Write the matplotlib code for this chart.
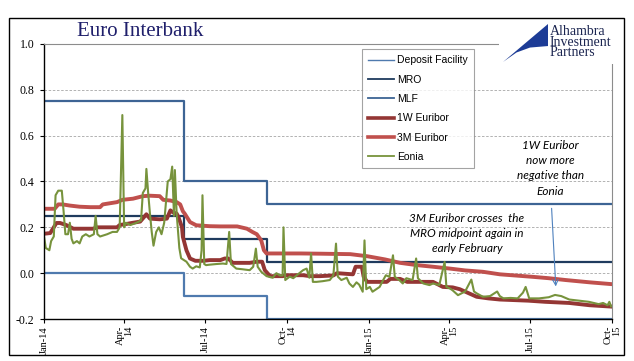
import matplotlib
matplotlib.use('Agg')
import matplotlib.pyplot as plt
import pandas as pd
from matplotlib.patches import Rectangle, Polygon

plt.rcParams['axes.unicode_minus'] = False

# ECB corridor, step changes
policy_dates = ['2014-01-01', '2014-06-07', '2014-09-08', '2015-10-01']
deposit = [0.00, -0.10, -0.20, -0.20]
mro = [0.25, 0.15, 0.05, 0.05]
mlf = [0.75, 0.40, 0.30, 0.30]

# 1W Euribor
w1_dates = ['2014-01-01', '2014-01-08', '2014-01-15', '2014-01-19', '2014-01-26', '2014-02-03',
            '2014-02-14', '2014-02-25', '2014-03-02', '2014-03-16', '2014-03-24', '2014-03-27',
            '2014-04-04', '2014-04-11', '2014-04-19', '2014-04-26', '2014-04-30', '2014-05-11',
            '2014-05-19', '2014-05-23', '2014-05-26', '2014-05-30', '2014-06-01', '2014-06-05',
            '2014-06-06', '2014-06-10', '2014-06-14', '2014-06-20', '2014-06-29', '2014-07-06',
            '2014-07-18', '2014-07-23', '2014-07-27', '2014-08-01', '2014-08-15', '2014-08-20',
            '2014-08-28', '2014-09-03', '2014-09-06', '2014-09-12', '2014-09-26', '2014-10-01',
            '2014-10-19', '2014-10-27', '2014-11-07', '2014-11-22', '2014-11-26', '2014-12-14',
            '2014-12-17', '2014-12-24', '2014-12-26', '2014-12-30', '2015-01-21', '2015-01-25',
            '2015-02-05', '2015-02-13', '2015-03-14', '2015-03-25', '2015-04-05', '2015-04-13',
            '2015-05-02', '2015-05-15', '2015-05-28', '2015-06-29', '2015-07-18', '2015-08-14',
            '2015-09-06', '2015-10-01']
w1 = [0.172, 0.175, 0.219, 0.219, 0.21, 0.194,
      0.194, 0.194, 0.20, 0.20, 0.20, 0.21,
      0.215, 0.22, 0.225, 0.257, 0.238, 0.235,
      0.238, 0.274, 0.265, 0.26, 0.245, 0.20,
      0.158, 0.10, 0.064, 0.054, 0.054, 0.057,
      0.057, 0.064, 0.064, 0.045, 0.045, 0.045,
      0.05, 0.05, 0.013, -0.013, -0.013, -0.009,
      -0.009, -0.013, -0.013, -0.01, 0.0, -0.005,
      0.028, 0.028, -0.015, -0.038, -0.038, -0.025,
      -0.025, -0.038, -0.038, -0.06, -0.062, -0.07,
      -0.103, -0.11, -0.115, -0.12, -0.125, -0.13,
      -0.14, -0.146]

# 3M Euribor
m3_dates = ['2014-01-01', '2014-01-13', '2014-01-17', '2014-01-22', '2014-01-30', '2014-02-10',
            '2014-02-22', '2014-03-05', '2014-03-08', '2014-03-16', '2014-03-24', '2014-03-30',
            '2014-04-11', '2014-04-22', '2014-04-30', '2014-05-11', '2014-05-15', '2014-05-23',
            '2014-05-30', '2014-06-03', '2014-06-06', '2014-06-08', '2014-06-14', '2014-06-21',
            '2014-07-06', '2014-07-18', '2014-08-06', '2014-08-17', '2014-08-23', '2014-08-28',
            '2014-09-02', '2014-09-05', '2014-09-08', '2014-10-16', '2014-11-07', '2014-12-11',
            '2014-12-30', '2015-01-19', '2015-02-05', '2015-02-24', '2015-03-14', '2015-04-02',
            '2015-04-19', '2015-05-09', '2015-05-28', '2015-07-04', '2015-07-22', '2015-08-10',
            '2015-09-06', '2015-10-01']
m3 = [0.281, 0.281, 0.30, 0.30, 0.295, 0.29,
      0.288, 0.288, 0.30, 0.305, 0.31, 0.32,
      0.325, 0.336, 0.338, 0.336, 0.32, 0.317,
      0.31, 0.30, 0.27, 0.26, 0.223, 0.209,
      0.205, 0.204, 0.204, 0.194, 0.18, 0.17,
      0.143, 0.10, 0.086, 0.086, 0.085, 0.083,
      0.074, 0.06, 0.045, 0.035, 0.028, 0.02,
      0.012, 0.006, -0.005, -0.016, -0.022, -0.03,
      -0.04, -0.048]

# Eonia
eonia_dates = ['2014-01-01', '2014-01-03', '2014-01-07', '2014-01-09', '2014-01-12', '2014-01-14',
               '2014-01-17', '2014-01-21', '2014-01-23', '2014-01-25', '2014-01-28', '2014-01-30',
               '2014-02-01', '2014-02-03', '2014-02-07', '2014-02-10', '2014-02-13', '2014-02-17',
               '2014-02-21', '2014-02-26', '2014-02-28', '2014-03-02', '2014-03-05', '2014-03-09',
               '2014-03-13', '2014-03-19', '2014-03-24', '2014-03-27', '2014-03-30', '2014-04-01',
               '2014-04-03', '2014-04-08', '2014-04-15', '2014-04-20', '2014-04-22', '2014-04-25',
               '2014-04-26', '2014-04-28', '2014-04-30', '2014-05-02', '2014-05-04', '2014-05-07',
               '2014-05-10', '2014-05-13', '2014-05-16', '2014-05-20', '2014-05-23', '2014-05-25',
               '2014-05-27', '2014-05-28', '2014-05-30', '2014-06-02', '2014-06-04', '2014-06-10',
               '2014-06-14', '2014-06-17', '2014-06-21', '2014-06-25', '2014-06-27', '2014-06-28',
               '2014-06-30', '2014-07-02', '2014-07-06', '2014-07-14', '2014-07-21', '2014-07-25',
               '2014-07-28', '2014-07-30', '2014-08-05', '2014-08-12', '2014-08-20', '2014-08-24',
               '2014-08-27', '2014-08-29', '2014-09-02', '2014-09-08', '2014-09-15', '2014-09-19',
               '2014-09-23', '2014-09-26', '2014-09-27', '2014-09-29', '2014-10-04', '2014-10-08',
               '2014-10-11', '2014-10-19', '2014-10-23', '2014-10-26', '2014-10-28', '2014-10-30',
               '2014-11-03', '2014-11-10', '2014-11-18', '2014-11-22', '2014-11-25', '2014-11-27',
               '2014-12-01', '2014-12-07', '2014-12-10', '2014-12-14', '2014-12-18', '2014-12-21',
               '2014-12-25', '2014-12-27', '2014-12-29', '2015-01-02', '2015-01-05', '2015-01-13',
               '2015-01-17', '2015-01-20', '2015-01-24', '2015-01-28', '2015-01-30', '2015-02-04',
               '2015-02-08', '2015-02-12', '2015-02-19', '2015-02-23', '2015-02-25', '2015-03-03',
               '2015-03-10', '2015-03-14', '2015-03-21', '2015-03-27', '2015-03-29', '2015-04-02',
               '2015-04-05', '2015-04-11', '2015-04-19', '2015-04-26', '2015-04-29', '2015-05-02',
               '2015-05-09', '2015-05-17', '2015-05-25', '2015-05-28', '2015-06-01', '2015-06-09',
               '2015-06-17', '2015-06-23', '2015-06-26', '2015-06-30', '2015-07-11', '2015-07-22',
               '2015-07-29', '2015-08-05', '2015-08-14', '2015-08-25', '2015-09-05', '2015-09-16',
               '2015-09-21', '2015-09-26', '2015-09-28', '2015-09-30']
eonia = [0.16, 0.11, 0.10, 0.14, 0.16, 0.34,
         0.36, 0.36, 0.27, 0.17, 0.17, 0.22,
         0.15, 0.13, 0.14, 0.13, 0.16, 0.17,
         0.16, 0.17, 0.25, 0.17, 0.16, 0.165,
         0.17, 0.18, 0.18, 0.20, 0.69, 0.20,
         0.22, 0.21, 0.22, 0.23, 0.35, 0.37,
         0.455, 0.35, 0.26, 0.18, 0.12, 0.18,
         0.20, 0.17, 0.22, 0.40, 0.41, 0.465,
         0.25, 0.45, 0.26, 0.11, 0.065, 0.05,
         0.028, 0.02, 0.03, 0.025, 0.10, 0.34,
         0.04, 0.035, 0.037, 0.04, 0.042, 0.04,
         0.18, 0.04, 0.02, 0.017, 0.013, 0.028,
         0.107, 0.028, 0.006, -0.013, -0.02, 0.0,
         -0.01, -0.01, 0.20, -0.03, -0.015, -0.022,
         -0.012, 0.013, 0.02, -0.02, 0.086, -0.038,
         -0.038, -0.035, -0.03, -0.01, 0.129, -0.015,
         -0.03, -0.02, -0.045, -0.06, -0.04, -0.05,
         -0.081, 0.143, -0.07, -0.06, -0.081, -0.06,
         -0.03, -0.009, -0.016, 0.078, -0.016, -0.03,
         -0.045, -0.022, -0.03, 0.064, -0.022, -0.045,
         -0.052, -0.045, -0.052, 0.049, -0.06, -0.067,
         -0.075, -0.096, -0.08, -0.028, -0.08, -0.088,
         -0.103, -0.10, -0.08, -0.10, -0.11, -0.108,
         -0.11, -0.085, -0.06, -0.11, -0.11, -0.105,
         -0.095, -0.10, -0.115, -0.12, -0.125, -0.135,
         -0.13, -0.14, -0.125, -0.145]

tick_dates = ['2014-01-01', '2014-04-01', '2014-07-01', '2014-10-01',
              '2015-01-01', '2015-04-01', '2015-07-01', '2015-10-01']
tick_labels = ['Jan-14', 'Apr-\n14', 'Jul-14', 'Oct-\n14',
               'Jan-15', 'Apr-\n15', 'Jul-15', 'Oct-\n15']

fig = plt.figure(figsize=(6.34, 3.61), dpi=100)
ax = fig.add_axes([44 / 634, 1 - 319 / 361, 568 / 634, 275 / 361])

pdates = pd.to_datetime(policy_dates)
ax.plot(pdates, deposit, drawstyle='steps-post', color='#4F7AAE', lw=1.6, label='Deposit Facility')
ax.plot(pdates, mro, drawstyle='steps-post', color='#1F3B5E', lw=1.6, label='MRO')
ax.plot(pdates, mlf, drawstyle='steps-post', color='#3D6494', lw=1.6, label='MLF')
ax.plot(pd.to_datetime(w1_dates), w1, color='#943634', lw=2.8, label='1W Euribor')
ax.plot(pd.to_datetime(m3_dates), m3, color='#C0504D', lw=2.8, label='3M Euribor')
ax.plot(pd.to_datetime(eonia_dates), eonia, color='#77933C', lw=1.5, label='Eonia')

ax.set_xlim(pd.Timestamp('2014-01-01'), pd.Timestamp('2015-10-01'))
ax.set_ylim(-0.2, 1.0)
ax.set_yticks([-0.2, 0.0, 0.2, 0.4, 0.6, 0.8, 1.0])
ax.set_yticklabels(['%.1f' % v for v in [-0.2, 0.0, 0.2, 0.4, 0.6, 0.8, 1.0]],
                   family='Liberation Serif', fontsize=8.5)
ax.set_xticks(pd.to_datetime(tick_dates))
ax.set_xticklabels(tick_labels, rotation=90, ha='center', va='top', ma='right',
                   family='Liberation Serif', fontsize=7.5, linespacing=0.9)
ax.tick_params(axis='both', direction='out', length=3, width=0.8, pad=2, colors='black')
ax.tick_params(axis='y', pad=4)

for v in [0.0, 0.2, 0.4, 0.6, 0.8]:
    ax.axhline(v, color='#A6A6A6', lw=0.6, ls=(0, (3, 2)), zorder=0.5)

for s in ['left', 'bottom']:
    ax.spines[s].set_color('black')
    ax.spines[s].set_linewidth(1.0)
for s in ['top', 'right']:
    ax.spines[s].set_color('#8C8C8C')
    ax.spines[s].set_linewidth(0.8)

leg = ax.legend(loc='upper left', bbox_to_anchor=((362 - 44) / 568, (319 - 49) / 275),
                prop={'family': 'Liberation Sans', 'size': 7.5}, frameon=True, fancybox=False,
                handlelength=2.5, handletextpad=0.3, labelspacing=0.9, borderpad=0.6,
                borderaxespad=0)
leg.get_frame().set_edgecolor('#8C8C8C')
leg.get_frame().set_linewidth(0.8)
for lh, w in zip(leg.get_lines(), [1.0, 1.3, 1.3, 2.6, 2.6, 1.3]):
    lh.set_linewidth(w)

note_font = {'family': 'Lato', 'style': 'italic', 'size': 8.5}
ax.text(pd.Timestamp('2015-07-24'), 0.457, '1W Euribor\nnow more\nnegative than\nEonia',
        ha='center', va='center', linespacing=1.45, fontdict=note_font)
ax.text(pd.Timestamp('2015-04-21'), 0.174, '3M Euribor crosses  the\nMRO midpoint again in\nearly February',
        ha='center', va='center', linespacing=1.45, fontdict=note_font)
ax.annotate('', xy=(pd.Timestamp('2015-07-30'), -0.07), xytext=(pd.Timestamp('2015-07-25'), 0.295),
            arrowprops=dict(arrowstyle='->', color='#4F81BD', lw=0.8, mutation_scale=10))

fig.text(140 / 634, 1 - 31 / 361, 'Euro Interbank', family='Liberation Serif', fontsize=15,
         color='#1F1F6B', ha='center', va='center')

# logo block
fig.patches.append(Rectangle((499 / 634, 1 - 64 / 361), 118 / 634, 44 / 361,
                             transform=fig.transFigure, facecolor='white', edgecolor='none', zorder=2))
logo = fig.add_axes([503 / 634, 1 - 62 / 361, 45 / 634, 38 / 361], zorder=5)
logo.set_xlim(0, 1)
logo.set_ylim(0, 1)
logo.axis('off')
logo.add_patch(Polygon([(1.0, 1.0), (0.0, 0.0), (0.3, 0.25), (0.6, 0.38), (1.0, 0.42)],
                       closed=True, facecolor='#1D3C96', edgecolor='none'))
logo.plot([1.0, 1.0, 0.0], [1.0, 0.0, 0.0], color='#B0B0B0', lw=0.6)
fig.text(550 / 634, 1 - 42 / 361, 'Alhambra\nInvestment\nPartners', family='Liberation Serif',
         fontsize=10, linespacing=0.78, color='#1B2550', ha='left', va='center', zorder=6)

fig.patches.append(Rectangle((9 / 634, 1 - 355 / 361), 615 / 634, 337 / 361,
                             transform=fig.transFigure, facecolor='none', edgecolor='black',
                             lw=1.0, zorder=3))

fig.savefig('out.png', dpi=100)
